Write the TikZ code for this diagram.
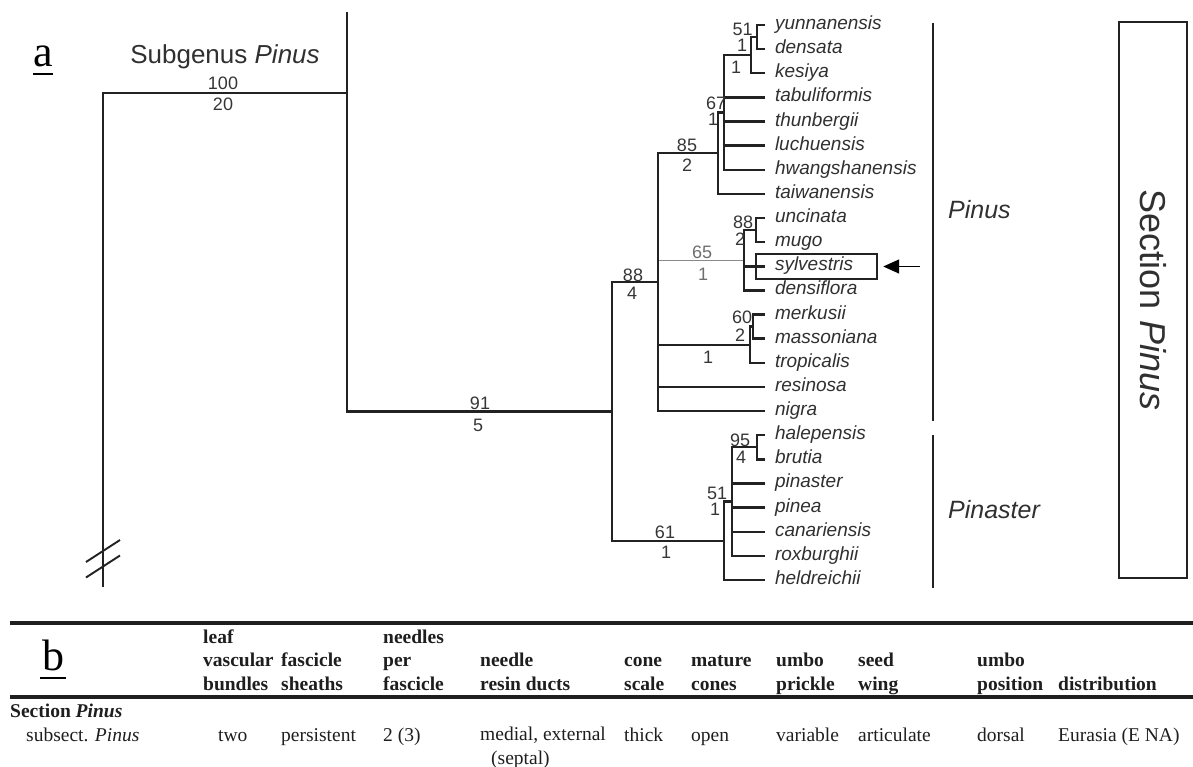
\documentclass[tikz,border=0pt]{standalone}
\usepackage{fontspec}
\setmainfont{Liberation Serif}
\setsansfont{Liberation Sans}
\usetikzlibrary{arrows.meta,positioning}

\definecolor{treeline}{HTML}{222222}
\definecolor{thingray}{HTML}{8A8A8A}
\definecolor{taxtext}{HTML}{303030}
\definecolor{numtext}{HTML}{363636}
\definecolor{tabtext}{HTML}{1E1E1E}

\begin{document}
\begin{tikzpicture}[x=1pt, y=-1pt, node distance=24.13pt]
    % Define the styles for the tree, the labels and the table
    \tikzstyle{branch} = [draw=treeline, line width=2.4pt]
    \tikzstyle{thinbranch} = [draw=thingray, line width=1.4pt]
    \tikzstyle{taxon} = [text width=150pt, align=left, inner xsep=10pt, inner ysep=0pt, text height=14pt, text depth=5pt, text=taxtext, font=\sffamily\itshape\fontsize{19}{19}\selectfont]
    \tikzstyle{supp} = [inner sep=0pt, text=numtext, font=\sffamily\fontsize{18}{18}\selectfont]
    \tikzstyle{clade} = [draw=treeline, line width=2.6pt]
    \tikzstyle{cladename} = [anchor=west, inner sep=0pt, text=taxtext, font=\sffamily\itshape\fontsize{25}{25}\selectfont]
    \tikzstyle{selbox} = [draw=treeline, line width=2.4pt, minimum width=121pt, minimum height=25pt, inner sep=0pt]
    \tikzstyle{pointer} = [draw=black, line width=1.4pt, -{Triangle[length=16pt, width=14pt]}, shorten >=5pt]
    \tikzstyle{secbox} = [draw=treeline, line width=2.2pt, minimum width=556pt, minimum height=68pt, inner sep=0pt, text=taxtext, font=\sffamily\fontsize{36}{36}\selectfont]
    \tikzstyle{panel} = [anchor=base west, inner sep=0pt, text=black, font=\fontsize{44}{44}\selectfont]
    \tikzstyle{head} = [anchor=base west, align=left, inner sep=0pt, text=tabtext, font=\bfseries\fontsize{19.5}{23.5}\selectfont]
    \tikzstyle{cell} = [anchor=base west, align=left, inner sep=0pt, text=tabtext, font=\fontsize{19.5}{23.5}\selectfont]
    \tikzstyle{tablerule} = [draw=black!88, line width=3.8pt]

    \useasboundingbox (0,0) rectangle (1193,767);

    % Create the nodes for the species
    \node [taxon] (yunnanensis) at (850,25) {yunnanensis};
    \node [taxon, below of=yunnanensis] (densata) {densata};
    \node [taxon, below of=densata] (kesiya) {kesiya};
    \node [taxon, below of=kesiya] (tabuliformis) {tabuliformis};
    \node [taxon, below of=tabuliformis] (thunbergii) {thunbergii};
    \node [taxon, below of=thunbergii] (luchuensis) {luchuensis};
    \node [taxon, below of=luchuensis] (hwangshanensis) {hwangshanensis};
    \node [taxon, below of=hwangshanensis] (taiwanensis) {taiwanensis};
    \node [taxon, below of=taiwanensis] (uncinata) {uncinata};
    \node [taxon, below of=uncinata] (mugo) {mugo};
    \node [taxon, below of=mugo] (sylvestris) {sylvestris};
    \node [taxon, below of=sylvestris] (densiflora) {densiflora};
    \node [taxon, below of=densiflora] (merkusii) {merkusii};
    \node [taxon, below of=merkusii] (massoniana) {massoniana};
    \node [taxon, below of=massoniana] (tropicalis) {tropicalis};
    \node [taxon, below of=tropicalis] (resinosa) {resinosa};
    \node [taxon, below of=resinosa] (nigra) {nigra};
    \node [taxon, below of=nigra] (halepensis) {halepensis};
    \node [taxon, below of=halepensis] (brutia) {brutia};
    \node [taxon, below of=brutia] (pinaster) {pinaster};
    \node [taxon, below of=pinaster] (pinea) {pinea};
    \node [taxon, below of=pinea] (canariensis) {canariensis};
    \node [taxon, below of=canariensis] (roxburghii) {roxburghii};
    \node [taxon, below of=roxburghii] (heldreichii) {heldreichii};

    % Internal nodes of the tree
    \coordinate (n51a) at (757,37.05);
    \coordinate (n1k) at (751,55.2);
    \coordinate (n67) at (724,112.5);
    \coordinate (n85) at (718,153.2);
    \coordinate (n88u) at (756,230.1);
    \coordinate (n65) at (744,260.3);
    \coordinate (n60) at (753,326.65);
    \coordinate (n1t) at (750,344.7);
    \coordinate (n88) at (658,282.15);
    \coordinate (n95) at (757,447.25);
    \coordinate (n51p) at (732,501.6);
    \coordinate (n61) at (724,540.8);
    \coordinate (n91) at (612,411.5);
    \coordinate (subgenus) at (347,93);
    \coordinate (subgtop) at (347,12);
    \coordinate (stembase) at (103,587);
    \coordinate (break1) at (103,551);
    \coordinate (break2) at (103,566.5);

    % Draw the branches
    \draw [branch] (stembase) |- (subgenus);
    \draw [branch] (subgtop) |- (n91);
    \draw [branch] (n91) |- (n88);
    \draw [branch] (n91) |- (n61);
    \draw [thinbranch] (n88) |- (n65);
    \draw [branch] (n88) |- (n85);
    \draw [branch] (n88) |- (n1t);
    \draw [branch] (n88) |- (resinosa.west);
    \draw [branch] (n88) |- (nigra.west);
    \draw [branch] (n85) |- (n67);
    \draw [branch] (n85) |- (taiwanensis.west);
    \draw [branch] (n67) |- (n1k);
    \draw [branch] (n67) |- (tabuliformis.west);
    \draw [branch] (n67) |- (thunbergii.west);
    \draw [branch] (n67) |- (luchuensis.west);
    \draw [branch] (n67) |- (hwangshanensis.west);
    \draw [branch] (n1k) |- (n51a);
    \draw [branch] (n1k) |- (kesiya.west);
    \draw [branch] (n51a) |- (yunnanensis.west);
    \draw [branch] (n51a) |- (densata.west);
    \draw [branch] (n65) |- (n88u);
    \draw [branch] (n65) |- (sylvestris.west);
    \draw [branch] (n65) |- (densiflora.west);
    \draw [branch] (n88u) |- (uncinata.west);
    \draw [branch] (n88u) |- (mugo.west);
    \draw [branch] (n1t) |- (n60);
    \draw [branch] (n1t) |- (tropicalis.west);
    \draw [branch] (n60) |- (merkusii.west);
    \draw [branch] (n60) |- (massoniana.west);
    \draw [branch] (n61) |- (n51p);
    \draw [branch] (n61) |- (heldreichii.west);
    \draw [branch] (n51p) |- (n95);
    \draw [branch] (n51p) |- (pinaster.west);
    \draw [branch] (n51p) |- (pinea.west);
    \draw [branch] (n51p) |- (canariensis.west);
    \draw [branch] (n51p) |- (roxburghii.west);
    \draw [branch] (n95) |- (halepensis.west);
    \draw [branch] (n95) |- (brutia.west);

    % Break marks on the stem
    \draw [branch, line width=1.9pt] ([shift={(-17,11)}]break1) -- ([shift={(17,-11)}]break1);
    \draw [branch, line width=1.9pt] ([shift={(-17,11)}]break2) -- ([shift={(17,-11)}]break2);

    % Add the support values (bootstrap above, decay index below)
    \node [supp] (bs100) at (223,83) {100};
    \node [supp] (br100) at (223,104) {20};
    \node [supp] (bs91) at (480,403) {91};
    \node [supp] (br91) at (478,425) {5};
    \node [supp] (bs88) at (633,275) {88};
    \node [supp] (br88) at (632,293) {4};
    \node [supp] (bs85) at (687,145) {85};
    \node [supp] (br85) at (687,165) {2};
    \node [supp] (bs67) at (716,103) {67};
    \node [supp] (br67) at (713,119) {1};
    \node [supp] (bs51a) at (742.5,29) {51};
    \node [supp] (br51a) at (742,45.5) {1};
    \node [supp] (br1k) at (736,67) {1};
    \node [supp] (bs88u) at (743,222) {88};
    \node [supp] (br88u) at (740,239) {2};
    \node [supp, text=thingray!80!black] (bs65) at (702,252) {65};
    \node [supp, text=thingray!80!black] (br65) at (703,274) {1};
    \node [supp] (bs60) at (742,317) {60};
    \node [supp] (br60) at (740,335) {2};
    \node [supp] (br1t) at (708,357) {1};
    \node [supp] (bs95) at (740,440) {95};
    \node [supp] (br95) at (741,457) {4};
    \node [supp] (bs51p) at (717,493) {51};
    \node [supp] (br51p) at (715,509) {1};
    \node [supp] (bs61) at (665,532) {61};
    \node [supp] (br61) at (666,552) {1};

    % Subgenus label, highlighted species and arrow
    \node [inner sep=0pt, text=taxtext, font=\sffamily\fontsize{26}{26}\selectfont] (subglab) at (225,57) {Subgenus \textit{Pinus}};
    \node [selbox] (selbox) at (816.5,266.5) {};
    \coordinate (arrowtail) at (920,266.5);
    \draw [pointer] (arrowtail) -- (selbox.east);

    % Clade bars and section box
    \coordinate (pinustop) at (933,23);
    \coordinate (pinusbot) at (933,421);
    \coordinate (pinastertop) at (933,435);
    \coordinate (pinasterbot) at (933,588);
    \draw [clade] (pinustop) -- (pinusbot);
    \draw [clade] (pinastertop) -- (pinasterbot);
    \node [cladename] (pinuslab) at (948,210) {Pinus};
    \node [cladename] (pinasterlab) at (948,510) {Pinaster};
    \node [secbox, rotate=-90] (sectbox) at (1153,300) {Section \textit{Pinus}};

    % Panel letters
    \node [panel] (panela) at (33,67) {a};
    \draw [line width=2pt] ([yshift=-7pt]panela.base west) -- ([yshift=-7pt]panela.base east);
    \node [panel] (panelb) at (42,670) {b};
    \draw [line width=2pt] ([shift={(-2,-8pt)}]panelb.base west) -- ([shift={(2,-8pt)}]panelb.base east);

    % Table rules
    \draw [tablerule] (10,623) -- (1193,623);
    \draw [tablerule] (10,697) -- (1193,697);

    % Table header
    \node [head] (hleaf) at (203,690) {leaf\\vascular\\bundles};
    \node [head] (hsheath) at (281,690) {fascicle\\sheaths};
    \node [head] (hneedles) at (383,690) {needles\\per\\fascicle};
    \node [head] (hducts) at (480,690) {needle\\resin ducts};
    \node [head] (hcone) at (624,690) {cone\\scale};
    \node [head] (hmature) at (691,690) {mature\\cones};
    \node [head] (hprickle) at (776,690) {umbo\\prickle};
    \node [head] (hwing) at (858,690) {seed\\wing};
    \node [head] (hposition) at (977,690) {umbo\\position};
    \node [head] (hdist) at (1058,690) {distribution};

    % Table rows
    \node [head] (section) at (10,717) {Section \textit{Pinus}};
    \node [cell] (subsect) at (26,741) {subsect. \textit{Pinus}};
    \node [cell] (vleaf) at (218,741) {two};
    \node [cell] (vsheath) at (281,741) {persistent};
    \node [cell] (vneedles) at (383,741) {2 (3)};
    \node [cell] (vducts) at (480,764) {medial, external\\\hspace*{11pt}(septal)};
    \node [cell] (vcone) at (624,741) {thick};
    \node [cell] (vmature) at (691,741) {open};
    \node [cell] (vprickle) at (776,741) {variable};
    \node [cell] (vwing) at (858,741) {articulate};
    \node [cell] (vposition) at (977,741) {dorsal};
    \node [cell] (vdist) at (1058,741) {Eurasia (E NA)};
\end{tikzpicture}
\end{document}
